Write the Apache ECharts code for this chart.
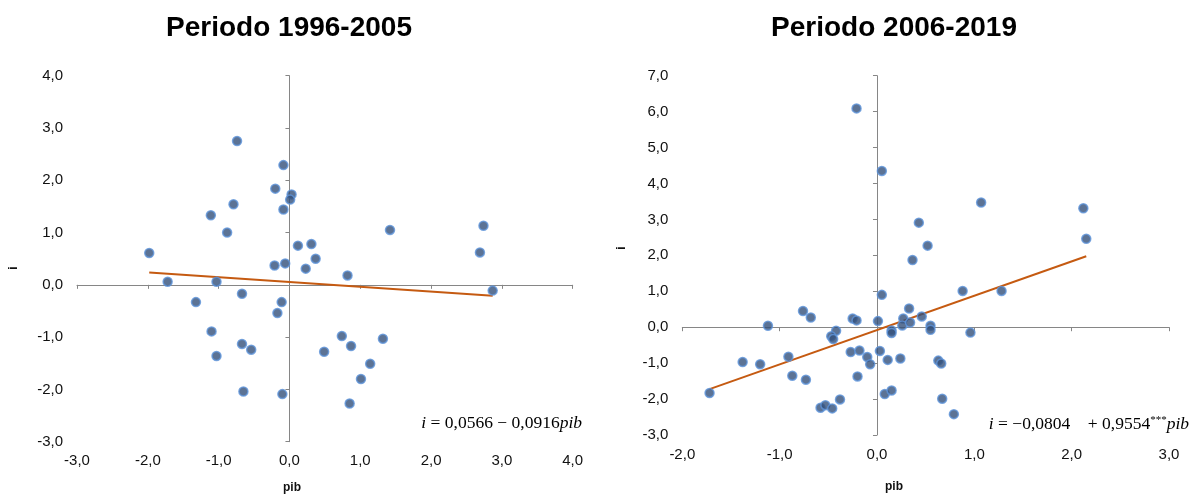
<!DOCTYPE html>
<html><head><meta charset="utf-8">
<script src="https://cdn.jsdelivr.net/npm/echarts@6/dist/echarts.min.js"></script>
<style>html,body{margin:0;padding:0;background:#fff}#c{width:1194px;height:495px}</style>
</head><body><div id="c"></div>
<script>
// Periodo 1996-2005
const pib1 = [-0.74,-0.085,-0.20,0.03,0.01,-0.79,-0.085,-1.11,-0.88,-1.98,0.12,0.31,0.37,-0.21,-0.06,0.23,-1.72,-1.03,-0.67,-1.32,-0.11,-0.17,-1.10,-0.67,-0.54,-1.03,0.49,-0.65,-0.10,2.69,0.82,2.87,0.74,0.87,1.32,1.14,1.01,0.85,1.42,2.74];
const i1   = [2.75,2.29,1.84,1.73,1.63,1.54,1.44,1.33,1.00,0.61,0.75,0.78,0.50,0.37,0.41,0.31,0.06,0.06,-0.17,-0.33,-0.33,-0.54,-0.89,-1.13,-1.24,-1.36,-1.28,-2.04,-2.09,0.62,0.18,-0.11,-0.98,-1.17,-1.03,-1.51,-1.80,-2.27,1.05,1.13];
// Periodo 2006-2019
const pib2 = [-0.21,0.05,1.07,0.43,0.52,2.12,2.15,0.365,0.05,0.88,1.28,0.33,0.27,0.46,0.26,0.34,0.55,0.55,0.15,0.15,0.96,0.01,0.03,0.11,0.24,0.63,0.66,0.08,0.15,0.67,0.79,-1.72,-1.12,-0.76,-0.68,-0.25,-0.21,-0.42,-0.47,-0.45,-1.38,-1.20,-0.91,-0.87,-0.73,-0.27,-0.18,-0.10,-0.07,-0.20,-0.58,-0.53,-0.46,-0.38];
const i2   = [6.09,4.35,3.47,2.91,2.27,3.31,2.46,1.87,0.90,1.01,1.01,0.52,0.24,0.30,0.05,0.13,0.04,-0.07,-0.09,-0.16,-0.15,0.17,-0.66,-0.91,-0.87,-0.93,-1.01,-1.86,-1.76,-1.99,-2.42,-1.83,0.04,0.45,0.27,0.24,0.19,-0.10,-0.25,-0.33,-0.97,-1.03,-0.82,-1.35,-1.46,-0.69,-0.65,-0.83,-1.03,-1.37,-2.24,-2.17,-2.26,-2.01];
// regression coefficients [intercept, slope]
const fit1 = [0.0566, -0.0916];
const fit2 = [-0.0804, 0.9554];
const titles = ['Periodo 1996-2005', 'Periodo 2006-2019'];
const xRange1 = [-3, 4], yRange1 = [-3, 4];
const xRange2 = [-2, 3], yRange2 = [-3, 7];

const fmt = v => v.toFixed(1).replace('.', ',');
const pts = (xs, ys) => xs.map((x, k) => [x, ys[k]]);
const trend = (xs, f) => {
  const a = Math.min(...xs), b = Math.max(...xs);
  return [[a, f[0] + f[1] * a], [b, f[0] + f[1] * b]];
};

const grids = [
  {left: 77, top: 75.7, width: 495.7, height: 366},
  {left: 682.3, top: 75.7, width: 486.7, height: 359.3}
];
const ranges = [[xRange1, yRange1], [xRange2, yRange2]];
const axisGray = '#868686';
const labelStyle = {color: '#111', fontSize: 15, fontFamily: 'Liberation Sans, Arial, sans-serif', formatter: fmt};

const xAxis = [], yAxis = [];
ranges.forEach((r, g) => {
  xAxis.push({type: 'value', gridIndex: g, min: r[0][0], max: r[0][1], interval: 1, position: 'bottom',
    axisLine: {show: false, onZero: false}, axisTick: {show: false}, splitLine: {show: false},
    axisLabel: Object.assign({margin: 12}, labelStyle)});
  yAxis.push({type: 'value', gridIndex: g, min: r[1][0], max: r[1][1], interval: 1, position: 'left',
    axisLine: {show: false, onZero: false}, axisTick: {show: false}, splitLine: {show: false},
    axisLabel: Object.assign({margin: 14}, labelStyle)});
});
ranges.forEach((r, g) => {
  xAxis.push({type: 'value', gridIndex: g, min: r[0][0], max: r[0][1], interval: 1, position: 'bottom',
    axisLine: {show: true, onZero: true, onZeroAxisIndex: g, lineStyle: {color: axisGray, width: 1}},
    axisTick: {show: true, length: 4, lineStyle: {color: axisGray}}, splitLine: {show: false},
    axisLabel: {show: false}});
  yAxis.push({type: 'value', gridIndex: g, min: r[1][0], max: r[1][1], interval: 1, position: 'left',
    axisLine: {show: true, onZero: true, onZeroAxisIndex: g, lineStyle: {color: axisGray, width: 1}},
    axisTick: {show: true, length: 4, lineStyle: {color: axisGray}}, splitLine: {show: false},
    axisLabel: {show: false}});
});

const scatterStyle = {color: '#33507a', borderColor: '#5f95db', borderWidth: 1.5};
const lineStyle = {color: '#c55a11', width: 2};

const series = [
  {type: 'scatter', xAxisIndex: 0, yAxisIndex: 0, data: pts(pib1, i1), symbolSize: 9, itemStyle: scatterStyle, z: 3},
  {type: 'line', xAxisIndex: 0, yAxisIndex: 0, data: trend(pib1, fit1), showSymbol: false, symbol: 'none', lineStyle: lineStyle, z: 2},
  {type: 'scatter', xAxisIndex: 1, yAxisIndex: 1, data: pts(pib2, i2), symbolSize: 9, itemStyle: scatterStyle, z: 3},
  {type: 'line', xAxisIndex: 1, yAxisIndex: 1, data: trend(pib2, fit2), showSymbol: false, symbol: 'none', lineStyle: lineStyle, z: 2}
];

const titleFont = 'bold 28px Liberation Sans, Arial, sans-serif';
const nameFont = 'bold 12px Liberation Sans, Arial, sans-serif';
const eqRich = {
  it: {fontStyle: 'italic', fontFamily: 'Liberation Serif, serif', fontSize: 17.5, color: '#111'},
  sup: {fontFamily: 'Liberation Serif, serif', fontSize: 11, color: '#111', verticalAlign: 'top', padding: [0, 0, 8, 0]},
  n: {fontFamily: 'Liberation Serif, serif', fontSize: 17.5, color: '#111'}
};

const graphic = [
  {type: 'text', x: 289, y: 28, style: {text: titles[0], font: titleFont, fill: '#000', align: 'center', verticalAlign: 'middle'}},
  {type: 'text', x: 894, y: 28, style: {text: titles[1], font: titleFont, fill: '#000', align: 'center', verticalAlign: 'middle'}},
  {type: 'text', x: 292, y: 488, style: {text: 'pib', font: nameFont, fill: '#111', align: 'center', verticalAlign: 'middle'}},
  {type: 'text', x: 894, y: 487, style: {text: 'pib', font: nameFont, fill: '#111', align: 'center', verticalAlign: 'middle'}},
  {type: 'text', x: 14, y: 268, rotation: Math.PI / 2, style: {text: 'i', font: nameFont, fill: '#111', align: 'center', verticalAlign: 'middle'}},
  {type: 'text', x: 622, y: 248, rotation: Math.PI / 2, style: {text: 'i', font: nameFont, fill: '#111', align: 'center', verticalAlign: 'middle'}},
  {type: 'text', x: 582, y: 423, style: {
    text: '{it|i}{n| = 0,0566 − 0,0916}{it|pib}', rich: eqRich, align: 'right', verticalAlign: 'middle'}},
  {type: 'text', x: 1189, y: 424, style: {
    text: '{it|i}{n| = −0,0804    + 0,9554}{sup|***}{it|pib}', rich: eqRich, align: 'right', verticalAlign: 'middle'}}
];

const chart = echarts.init(document.getElementById('c'), null, {renderer: 'canvas'});
chart.setOption({
  animation: false,
  backgroundColor: '#fff',
  grid: grids,
  xAxis: xAxis,
  yAxis: yAxis,
  series: series,
  graphic: graphic
});
</script>
</body></html>
